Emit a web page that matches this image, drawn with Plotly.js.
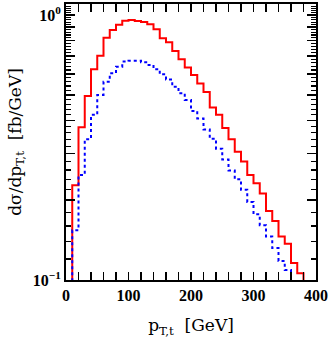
<!DOCTYPE html>
<html>
<head>
<meta charset="utf-8">
<script src="https://cdn.plot.ly/plotly-3.0.1.min.js"></script>
<style>html,body{margin:0;padding:0;background:#fff;}#chart{width:332px;height:343px;}</style>
</head>
<body>
<div id="chart"></div>
<script>
// lower bin edges (GeV), 10 GeV bins; last entry is the upper edge of the final bin
var binEdges = [0,10,20,30,40,50,60,70,80,90,100,110,120,130,140,150,160,170,180,190,
                200,210,220,230,240,250,260,270,280,290,300,310,320,330,340,350,360,370,380,390,400];
// values per bin (fb/GeV); 0.01 = below the visible range
var redValues = [0.01,0.228,0.377,0.495,0.624,0.702,0.821,0.878,0.919,0.952,
                 0.957,0.950,0.941,0.922,0.883,0.817,0.789,0.732,0.681,0.634,
                 0.594,0.551,0.512,0.448,0.420,0.375,0.340,0.305,0.280,0.249,
                 0.232,0.212,0.182,0.167,0.146,0.137,0.116,0.106,0.01,0.01];
var blueValues = [0.01,0.154,0.249,0.340,0.420,0.499,0.560,0.603,0.638,0.667,
                  0.672,0.672,0.663,0.648,0.624,0.597,0.571,0.536,0.507,0.478,
                  0.434,0.407,0.370,0.341,0.313,0.285,0.259,0.240,0.219,0.197,
                  0.177,0.161,0.146,0.132,0.118,0.109,0.01,0.01,0.01,0.01];
var yLabelTicks = [0.1,1.0];
var yLabelText = ['10<sup>\u22121</sup>','10<sup>0</sup>'];
var yLongTicks = [0.1,0.2,0.3,0.4,0.5,0.6,0.7,0.8,0.9,1.0];
var yMinorTicks = [0.12,0.14,0.16,0.18,0.22,0.24,0.26,0.28,0.32,0.34,0.36,0.38,
                   0.42,0.44,0.46,0.48,0.52,0.54,0.56,0.58,0.62,0.64,0.66,0.68,
                   0.72,0.74,0.76,0.78,0.82,0.84,0.86,0.88,0.92,0.94,0.96,0.98,
                   1.02,1.04,1.06,1.08];
var xTickVals = [0,100,200,300,400];

function stepY(v){ return v.concat([v[v.length-1]]); }

var traces = [
  {x: binEdges, y: stepY(redValues), mode:'lines', line:{shape:'hv', color:'#ff0000', width:2}, hoverinfo:'skip'},
  {x: binEdges, y: stepY(blueValues), mode:'lines', line:{shape:'hv', color:'#0000ff', width:2, dash:'dot'}, hoverinfo:'skip'},
  {x: binEdges, y: stepY(redValues), yaxis:'y2', mode:'lines', opacity:0, line:{width:0}, hoverinfo:'skip'}
];

var tickFont = {family:'Liberation Serif', size:16, color:'#000', weight:'bold'};
var yRange = [-1, 0.0415];
var layout = {
  width:332, height:343,
  margin:{l:66, r:16, t:4, b:63, pad:0},
  paper_bgcolor:'#fff', plot_bgcolor:'#fff',
  showlegend:false,
  xaxis:{
    range:[0,400], showgrid:false, zeroline:false,
    showline:true, linecolor:'#000', linewidth:2, mirror:'allticks',
    tickmode:'array', tickvals:xTickVals, ticks:'inside', ticklen:8, tickwidth:1.5, tickcolor:'#000',
    minor:{dtick:20, tick0:0, ticks:'inside', ticklen:4, tickwidth:1.2, tickcolor:'#000', showgrid:false},
    tickfont:tickFont,
    title:{text:'p<sub>T,t</sub>  [GeV]', font:{family:'DejaVu Serif', size:17, color:'#000'}, standoff:16}
  },
  yaxis:{
    type:'log', range:yRange, showgrid:false, zeroline:false,
    showline:true, linecolor:'#000', linewidth:2, mirror:'allticks',
    tickmode:'array', tickvals:yLabelTicks, ticktext:yLabelText,
    ticks:'inside', ticklen:9, tickwidth:1.5, tickcolor:'#000',
    minor:{tickmode:'array', tickvals:yMinorTicks, ticks:'inside', ticklen:5, tickwidth:1.2, tickcolor:'#000', showgrid:false},
    tickfont:tickFont,
    title:{text:'d\u03c3/dp<sub>T,t</sub>  [fb/GeV]', font:{family:'DejaVu Serif', size:17, color:'#000'}, standoff:7}
  },
  yaxis2:{
    type:'log', range:yRange, overlaying:'y', side:'left', showgrid:false, zeroline:false,
    showline:false, mirror:'allticks', showticklabels:false,
    tickmode:'array', tickvals:yLongTicks,
    ticks:'inside', ticklen:9, tickwidth:1.5, tickcolor:'#000'
  }
};
Plotly.newPlot('chart', traces, layout, {displayModeBar:false, staticPlot:true});
</script>
</body>
</html>
